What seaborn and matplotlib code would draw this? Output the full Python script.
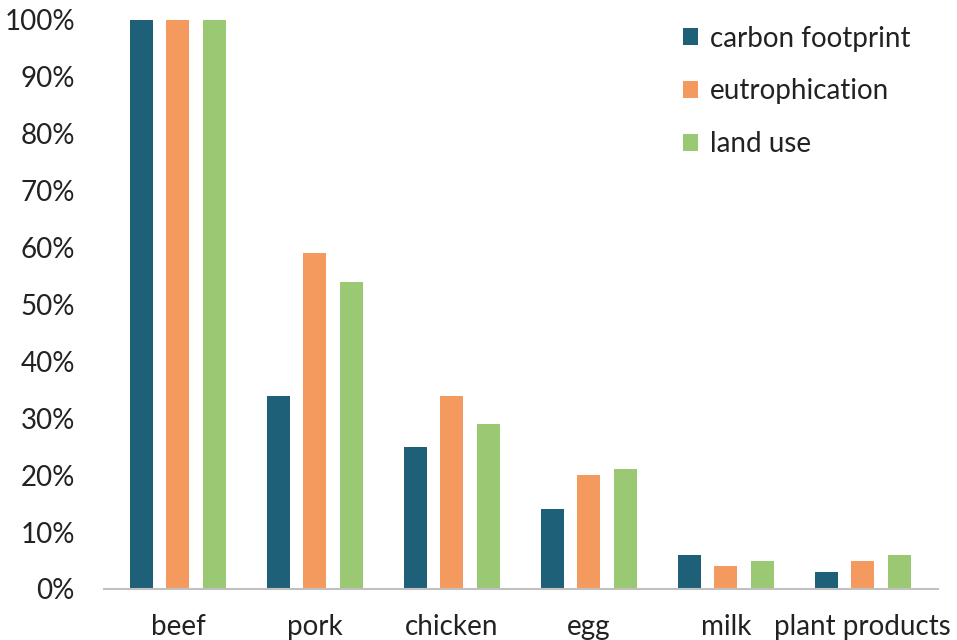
import matplotlib
matplotlib.use("Agg")
import matplotlib.pyplot as plt
import seaborn as sns
import pandas as pd
from matplotlib.ticker import FuncFormatter

# ── Data ─────────────────────────────────────────────────────────────────────
foods = ["beef", "pork", "chicken", "egg", "milk", "plant products"]
series = ["carbon footprint", "eutrophication", "land use"]
carbon_footprint = [100, 34, 25, 14, 6, 3]
eutrophication = [100, 59, 34, 20, 4, 5]
land_use = [100, 54, 29, 21, 5, 6]
colors = ["#1f6079", "#f59a5e", "#9bc873"]

df = pd.DataFrame({
    "food": foods * 3,
    "impact": [s for s in series for _ in foods],
    "value": carbon_footprint + eutrophication + land_use,
})

# ── Plot ─────────────────────────────────────────────────────────────────────
sns.set_theme(style="white")
plt.rcParams["font.family"] = ["Lato", "DejaVu Sans"]

fig = plt.figure(figsize=(9.57, 6.4), dpi=100)
ax = fig.add_axes([0.1087, 0.0797, 0.8715, 0.8891])

sns.barplot(data=df, x="food", y="value", hue="impact", palette=colors,
            width=0.8, gap=0.37, linewidth=0, saturation=1, ax=ax)

ax.set_xlim(-0.54, 5.55)
ax.set_ylim(0, 100)
ax.set_yticks(range(0, 101, 10))
ax.yaxis.set_major_formatter(FuncFormatter(lambda v, _: f"{v:.0f}%"))
ax.set_xlabel("")
ax.set_ylabel("")
ax.tick_params(axis="x", length=0, pad=18, labelsize=20, colors="#222222")
ax.tick_params(axis="y", length=0, pad=21, labelsize=20, colors="#222222")

for side in ["left", "right", "top"]:
    ax.spines[side].set_visible(False)
ax.spines["bottom"].set_color("#c0c0c0")
ax.spines["bottom"].set_linewidth(1.5)

leg = ax.legend(loc="upper left", bbox_to_anchor=(0.694, 0.99), frameon=False,
                fontsize=20, handlelength=0.55, handleheight=0.55,
                handletextpad=0.43, labelspacing=0.96,
                borderpad=0, borderaxespad=0)
for t in leg.get_texts():
    t.set_color("#222222")

fig.savefig("out.png", dpi=100)
